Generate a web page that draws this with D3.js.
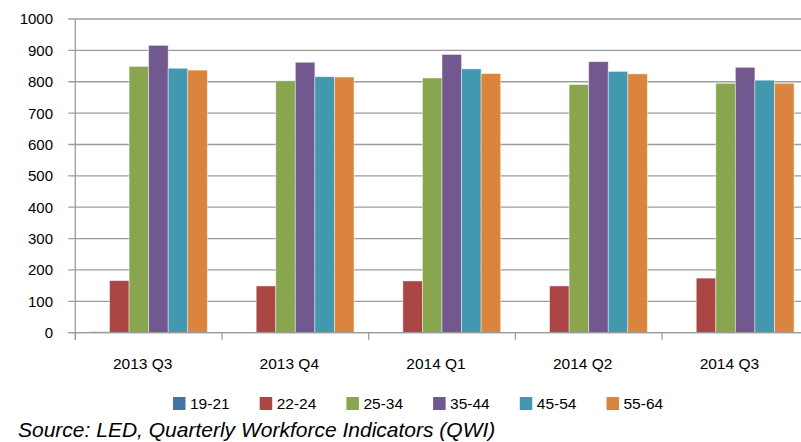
<!DOCTYPE html>
<html>
<head>
<meta charset="utf-8">
<script src="https://cdn.jsdelivr.net/npm/d3@7"></script>
<style>
  body { margin: 0; background: #fff; }
  svg { display: block; }
  text { font-family: "Liberation Sans", Arial, sans-serif; fill: #000; }
</style>
</head>
<body>
<div id="chart"></div>
<script>
// quarters on the x axis
const quarters = ["2013 Q3", "2013 Q4", "2014 Q1", "2014 Q2", "2014 Q3"];
// age groups (series)
const ageGroups = ["19-21", "22-24", "25-34", "35-44", "45-54", "55-64"];
const colors = ["#4572A7", "#AA4643", "#89A54E", "#71588F", "#4198AF", "#DB843D"];

// values per age group, one per quarter
const v19_21 = [3, 0, 0, 0, 0];
const v22_24 = [166, 149, 165, 149, 174];
const v25_34 = [849, 803, 812, 791, 795];
const v35_44 = [916, 862, 887, 864, 846];
const v45_54 = [843, 816, 841, 833, 805];
const v55_64 = [837, 815, 826, 825, 795];
const seriesValues = [v19_21, v22_24, v25_34, v35_44, v45_54, v55_64];

const yTicks = [0, 100, 200, 300, 400, 500, 600, 700, 800, 900, 1000];
const source = "Source: LED, Quarterly Workforce Indicators (QWI)";

const width = 801, height = 442;
const plot = {left: 75.3, right: 808.7, top: 19, bottom: 332.7};

const svg = d3.select("#chart").append("svg")
	.attr("width", width)
	.attr("height", height);

const x = d3.scaleBand()
	.domain(quarters)
	.range([plot.left, plot.right])
	.paddingInner(0.2)
	.paddingOuter(0.1);

const xs = d3.scaleBand()
	.domain(ageGroups)
	.range([0, x.bandwidth()]);

const y = d3.scaleLinear()
	.domain([0, 1000])
	.range([plot.bottom, plot.top]);

// gridlines + y tick labels
const grid = svg.append("g");
grid.selectAll("line")
	.data(yTicks)
	.enter().append("line")
	.attr("x1", plot.left - 7)
	.attr("x2", width)
	.attr("y1", d => y(d))
	.attr("y2", d => y(d))
	.attr("stroke", "#9c9c9c")
	.attr("stroke-width", 1.3);

grid.selectAll("text")
	.data(yTicks)
	.enter().append("text")
	.attr("x", 53)
	.attr("y", d => y(d))
	.attr("dy", "0.36em")
	.attr("text-anchor", "end")
	.attr("font-size", "15px")
	.text(d => d);

// bars
const data = quarters.map((q, i) => ({q: q, vals: ageGroups.map((a, j) => ({a: a, v: seriesValues[j][i], c: colors[j]}))}));

const groups = svg.append("g").selectAll("g")
	.data(data)
	.enter().append("g")
	.attr("transform", d => "translate(" + x(d.q) + ",0)");

groups.selectAll("rect")
	.data(d => d.vals)
	.enter().append("rect")
	.attr("x", d => xs(d.a))
	.attr("width", xs.bandwidth())
	.attr("y", d => y(d.v))
	.attr("height", d => plot.bottom - y(d.v))
	.attr("fill", d => d.c)
	.attr("stroke", "rgba(255,255,255,0.55)")
	.attr("stroke-width", 0.8);

// axes lines
svg.append("line")
	.attr("x1", plot.left).attr("x2", plot.left)
	.attr("y1", plot.top).attr("y2", plot.bottom + 7)
	.attr("stroke", "#9c9c9c").attr("stroke-width", 1.3);

svg.append("line")
	.attr("x1", plot.left - 7).attr("x2", width)
	.attr("y1", plot.bottom).attr("y2", plot.bottom)
	.attr("stroke", "#9c9c9c").attr("stroke-width", 1.3);

const bounds = d3.range(quarters.length + 1).map(i => plot.left + i * x.step());
svg.append("g").selectAll("line")
	.data(bounds)
	.enter().append("line")
	.attr("x1", d => d).attr("x2", d => d)
	.attr("y1", plot.bottom).attr("y2", plot.bottom + 7)
	.attr("stroke", "#9c9c9c").attr("stroke-width", 1.3);

// category labels (sit a little left of the band centre, as in the original)
svg.append("g").selectAll("text")
	.data(quarters)
	.enter().append("text")
	.attr("x", d => x(d) + x.bandwidth() / 2 - 6)
	.attr("y", 369)
	.attr("text-anchor", "middle")
	.attr("font-size", "15.5px")
	.text(d => d);

// legend
const legend = svg.append("g").selectAll("g")
	.data(ageGroups)
	.enter().append("g")
	.attr("transform", (d, i) => "translate(" + (173 + i * 86.7) + ",397)");

legend.append("rect")
	.attr("width", 12.5)
	.attr("height", 13)
	.attr("fill", (d, i) => colors[i]);

legend.append("text")
	.attr("x", 17)
	.attr("y", 12)
	.attr("font-size", "15.5px")
	.text(d => d);

// source note
svg.append("text")
	.attr("x", 18)
	.attr("y", 437)
	.attr("font-family", "'DejaVu Sans', Verdana, sans-serif")
	.attr("font-style", "italic")
	.attr("font-size", "21px")
	.text(source);
</script>
</body>
</html>
